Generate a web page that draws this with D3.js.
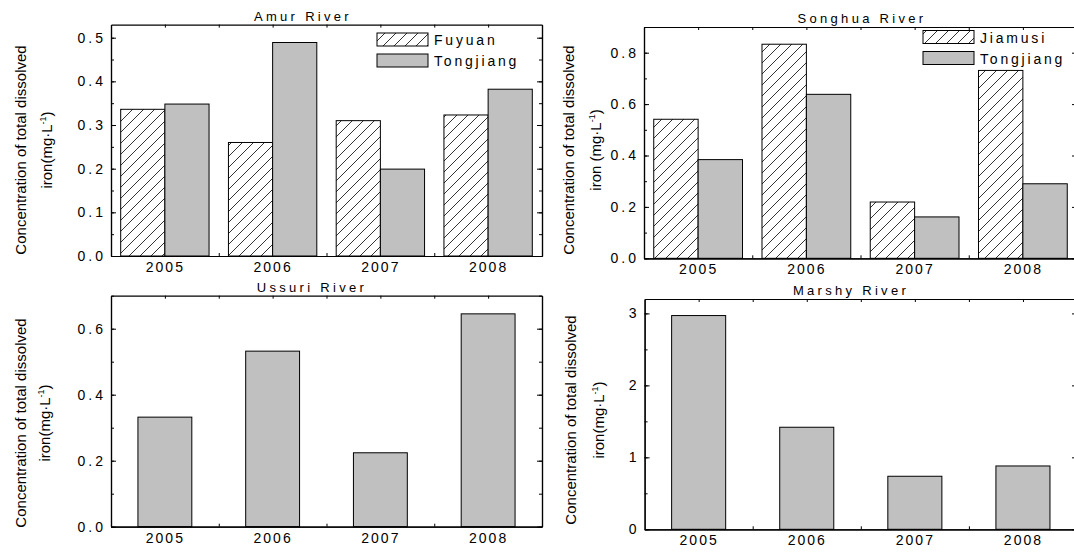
<!DOCTYPE html>
<html>
<head>
<meta charset="utf-8">
<script src="https://cdn.jsdelivr.net/npm/d3@7/dist/d3.min.js"></script>
<style>
  body { margin: 0; background: #fff; }
  text { font-family: "Liberation Sans", Arial, sans-serif; fill: #000; }
</style>
</head>
<body>
<svg id="chart" width="1074" height="552"></svg>
<script>
// data
const years = ['2005', '2006', '2007', '2008'];
const amurFuyuan = [0.336, 0.26, 0.31, 0.323];
const amurTongjiang = [0.348, 0.489, 0.199, 0.382];
const songhuaJiamusi = [0.541, 0.833, 0.219, 0.731];
const songhuaTongjiang = [0.384, 0.638, 0.161, 0.29];
const ussuriValues = [0.332, 0.532, 0.224, 0.645];
const marshyValues = [2.97, 1.418, 0.737, 0.88];

const amurTicks = [0, 0.1, 0.2, 0.3, 0.4, 0.5];
const songhuaTicks = [0, 0.2, 0.4, 0.6, 0.8];
const ussuriTicks = [0, 0.2, 0.4, 0.6];
const marshyTicks = [0, 1, 2, 3];

const svg = d3.select('#chart');
svg.append('rect').attr('width', 1074).attr('height', 552).attr('fill', '#fff');

// hatch pattern for the first station
const defs = svg.append('defs');
const pat = defs.append('pattern')
  .attr('id', 'hatch')
  .attr('patternUnits', 'userSpaceOnUse')
  .attr('width', 11)
  .attr('height', 11);
pat.append('rect').attr('width', 11).attr('height', 11).attr('fill', '#fff');
pat.append('path')
  .attr('d', 'M0,11L11,0M-3,3L3,-3M8,14L14,8')
  .attr('stroke', '#000')
  .attr('stroke-width', 0.8);

const GRAY = '#c0c0c0';

const panels = [
  {
    title: 'Amur River', tx: 303, ty: 21,
    x0: 111, x1: 542, y0: 24.6, y1: 256, ymax: 0.53,
    ticks: amurTicks, minorStep: 0.05, fmt: d3.format('.1f'),
    series: [
      { name: 'Fuyuan', values: amurFuyuan, fill: 'url(#hatch)' },
      { name: 'Tongjiang', values: amurTongjiang, fill: GRAY },
    ],
    legend: { x: 377, y: 33 },
    ylab: { x1: 26, x2: 52, cy: 150, line2: 'iron(mg·L' },
  },
  {
    title: 'Songhua River', tx: 862, ty: 23,
    x0: 644, x1: 1077, y0: 27, y1: 258.3, ymax: 0.9,
    ticks: songhuaTicks, minorStep: 0.1, fmt: d3.format('.1f'),
    series: [
      { name: 'Jiamusi', values: songhuaJiamusi, fill: 'url(#hatch)' },
      { name: 'Tongjiang', values: songhuaTongjiang, fill: GRAY },
    ],
    legend: { x: 923, y: 30.5 },
    ylab: { x1: 574, x2: 601, cy: 150, line2: 'iron (mg·L' },
  },
  {
    title: 'Ussuri River', tx: 312, ty: 292,
    x0: 111, x1: 542, y0: 295.7, y1: 526.7, ymax: 0.7,
    ticks: ussuriTicks, minorStep: 0.1, fmt: d3.format('.1f'),
    series: [{ name: 'Ussuri', values: ussuriValues, fill: GRAY }],
    ylab: { x1: 26, x2: 50, cy: 423, line2: 'iron(mg·L' },
  },
  {
    title: 'Marshy River', tx: 851, ty: 295,
    x0: 644.6, x1: 1077, y0: 299, y1: 529.3, ymax: 3.2,
    ticks: marshyTicks, minorStep: 0.5, fmt: d3.format('d'),
    series: [{ name: 'Marshy', values: marshyValues, fill: GRAY }],
    ylab: { x1: 576, x2: 604, cy: 420, line2: 'iron(mg·L' },
  },
];

panels.forEach((p) => {
  const g = svg.append('g');
  const x = d3.scaleLinear().domain([0.5, 4.5]).range([p.x0, p.x1]);
  const y = d3.scaleLinear().domain([0, p.ymax]).range([p.y1, p.y0]);
  const nS = p.series.length;
  const bw = nS === 2 ? 0.41 : 0.5;

  // bars
  p.series.forEach((s, si) => {
    g.selectAll(null)
      .data(s.values)
      .enter()
      .append('rect')
      .attr('x', (d, i) => {
        const c = i + 1;
        return nS === 2 ? x(c - bw + si * bw) : x(c - bw / 2);
      })
      .attr('width', x(1 + bw) - x(1))
      .attr('y', (d) => y(d))
      .attr('height', (d) => y(0) - y(d))
      .attr('fill', s.fill)
      .attr('stroke', '#000')
      .attr('stroke-width', 1);
  });

  const minor = d3.range(0, p.ymax + 1e-9, p.minorStep);

  // left axis
  g.append('g')
    .attr('transform', `translate(${p.x0},0)`)
    .call(d3.axisLeft(y).tickValues(minor).tickSize(-3).tickSizeOuter(0).tickFormat(''));
  const la = g.append('g')
    .attr('transform', `translate(${p.x0},0)`)
    .call(d3.axisLeft(y).tickValues(p.ticks).tickSize(-5).tickSizeOuter(0).tickPadding(5).tickFormat(p.fmt));
  la.selectAll('text').attr('font-size', 14).style('letter-spacing', '3px')
    .attr('font-family', '"Liberation Sans", Arial, sans-serif');

  // right axis
  g.append('g')
    .attr('transform', `translate(${p.x1},0)`)
    .call(d3.axisRight(y).tickValues(minor).tickSize(-3).tickSizeOuter(0).tickFormat(''));
  g.append('g')
    .attr('transform', `translate(${p.x1},0)`)
    .call(d3.axisRight(y).tickValues(p.ticks).tickSize(-5).tickSizeOuter(0).tickFormat(''));

  // top axis
  g.append('g')
    .attr('transform', `translate(0,${p.y0})`)
    .call(d3.axisTop(x).tickValues(d3.range(1, 4.5, 0.5)).tickSize(-3).tickSizeOuter(0).tickFormat(''));

  // bottom axis
  g.append('g')
    .attr('transform', `translate(0,${p.y1})`)
    .call(d3.axisBottom(x).tickValues([1.5, 2.5, 3.5]).tickSize(-3).tickSizeOuter(0).tickFormat(''));
  const ba = g.append('g')
    .attr('transform', `translate(0,${p.y1})`)
    .call(d3.axisBottom(x).tickValues([1, 2, 3, 4]).tickSize(0).tickSizeOuter(0).tickPadding(6)
      .tickFormat((d) => years[d - 1]));
  ba.selectAll('text').attr('font-size', 14).style('letter-spacing', '2px')
    .attr('font-family', '"Liberation Sans", Arial, sans-serif');

  g.selectAll('.domain').attr('stroke', '#000').attr('stroke-width', 1.2);
  g.selectAll('.tick line').attr('stroke', '#000').attr('stroke-width', 1);

  // title
  g.append('text')
    .attr('x', p.tx)
    .attr('y', p.ty)
    .attr('text-anchor', 'middle')
    .attr('font-size', 13)
    .style('letter-spacing', '3.3px')
    .text(p.title);

  // y label
  g.append('text')
    .attr('transform', `translate(${p.ylab.x1},${p.ylab.cy}) rotate(-90)`)
    .attr('text-anchor', 'middle')
    .attr('font-size', 15)
    .text('Concentration of total dissolved');
  const l2 = g.append('text')
    .attr('transform', `translate(${p.ylab.x2},${p.ylab.cy}) rotate(-90)`)
    .attr('text-anchor', 'middle')
    .attr('font-size', 15);
  l2.append('tspan').text(p.ylab.line2);
  l2.append('tspan').attr('font-size', 9).attr('dy', -6).text('-1');
  l2.append('tspan').attr('dy', 6).text(')');

  // legend
  if (p.legend) {
    p.series.forEach((s, si) => {
      const ly = p.legend.y + si * 21;
      g.append('rect')
        .attr('x', p.legend.x)
        .attr('y', ly)
        .attr('width', 51)
        .attr('height', 13)
        .attr('fill', s.fill)
        .attr('stroke', '#000')
        .attr('stroke-width', 1);
      g.append('text')
        .attr('x', p.legend.x + 57)
        .attr('y', ly + 12)
        .attr('font-size', 14)
        .style('letter-spacing', '2.8px')
        .text(s.name);
    });
  }
});
</script>
</body>
</html>
